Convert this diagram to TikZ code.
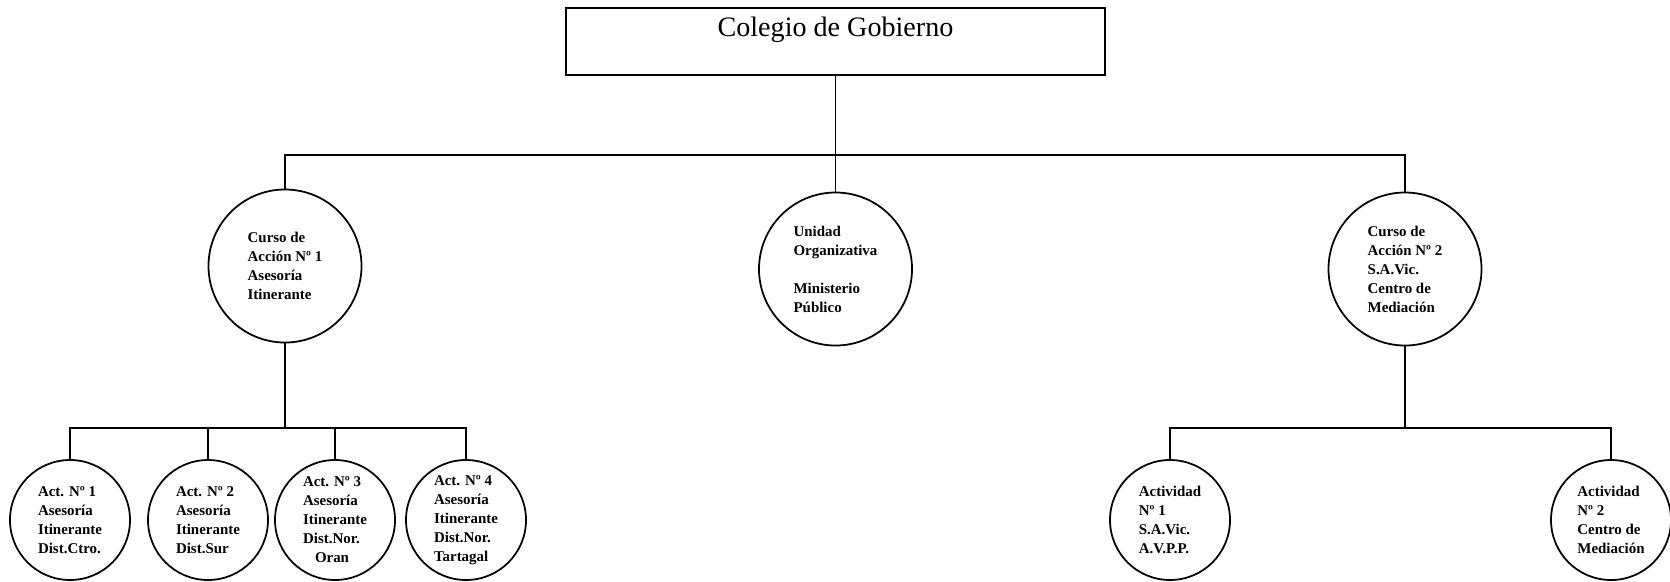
\documentclass[tikz,border=0pt]{standalone}
\usepackage{fontspec}
\setmainfont{Liberation Serif}
\usepackage{tikz}
\usetikzlibrary{positioning, calc}
\tikzset{
	topbox/.style ={rectangle, draw=black, line width=1pt, minimum width=10.78cm, minimum height=1.34cm, inner sep=0pt, text height=0.56cm, text depth=0.78cm, font=\fontsize{16}{19}\selectfont},
	unitc/.style  ={circle, draw=black, line width=1pt, minimum size=3.06cm, inner sep=0pt, align=left, font=\fontsize{8.5}{10.8}\selectfont\bfseries},
	actc/.style   ={circle, draw=black, line width=1pt, minimum size=2.4cm, inner sep=0pt, align=left, font=\fontsize{8.5}{10.8}\selectfont\bfseries},
	conn/.style   ={line width=1pt},
}

\begin{document}
\begin{tikzpicture}
	\useasboundingbox (0,0) rectangle (33.4,-11.62);
	% level 0
	\node[topbox] (gob) at (16.71,-0.83) {Colegio de Gobierno};
	% level 1
	\node[unitc] (c1) at (5.70,-5.32) {Curso de\\Acción Nº 1\\Asesoría\\Itinerante};
	\node[unitc] (uo) at (16.71,-5.38) {Unidad\\Organizativa\\[10.8pt]Ministerio\\Público};
	\node[unitc] (c2) at (28.10,-5.38) {Curso de\\Acción Nº 2\\S.A.Vic.\\Centro de\\Mediación};
	% level 2
	\node[actc] (a1) at (1.40,-10.40) {Act. Nº 1\\Asesoría\\Itinerante\\Dist.Ctro.};
	\node[actc] (a2) at (4.16,-10.40) {Act. Nº 2\\Asesoría\\Itinerante\\Dist.Sur};
	\node[actc] (a3) at (6.70,-10.40) {Act. Nº 3\\Asesoría\\Itinerante\\Dist.Nor.\\\hspace*{0.8em}Oran};
	\node[actc] (a4) at (9.32,-10.40) {Act. Nº 4\\Asesoría\\Itinerante\\Dist.Nor.\\Tartagal};
	\node[actc] (b1) at (23.40,-10.40) {Actividad\\Nº 1\\S.A.Vic.\\A.V.P.P.};
	\node[actc] (b2) at (32.22,-10.40) {Actividad\\Nº 2\\Centro de\\Mediación};
	% branch points
	\coordinate (bar0) at (16.71,-3.10);
	\coordinate (bar1) at (5.70,-8.56);
	\coordinate (bar2) at (28.10,-8.56);
	% connectors
	\draw[conn] (gob.south) -- (bar0);
	\draw[conn] (c1.north) |- (bar0) -| (c2.north);
	\draw[conn] (bar0) -- (uo.north);
	\draw[conn] (c1.south) -- (bar1);
	\draw[conn] (a1.north) |- (bar1) -| (a4.north);
	\draw[conn] (a2.north) -- (a2.north |- bar1);
	\draw[conn] (a3.north) -- (a3.north |- bar1);
	\draw[conn] (c2.south) -- (bar2);
	\draw[conn] (b1.north) |- (bar2) -| (b2.north);
\end{tikzpicture}
\end{document}
